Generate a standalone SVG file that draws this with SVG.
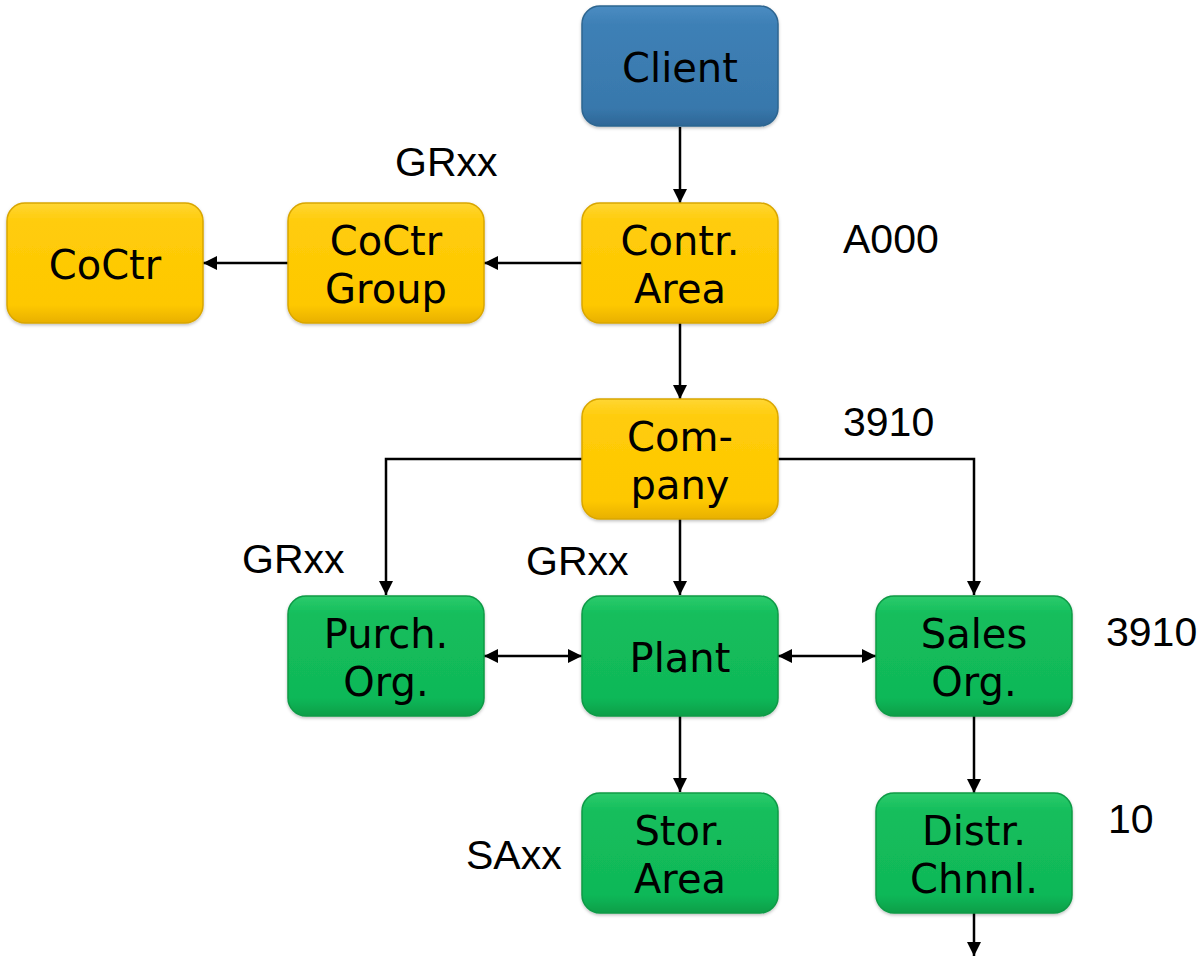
<svg xmlns="http://www.w3.org/2000/svg" width="1201" height="959" viewBox="0 0 1201 959">
  <defs>
    <linearGradient id="gBlue" x1="0" y1="0" x2="0" y2="1">
      <stop offset="0" stop-color="#4A8CC2"/>
      <stop offset="0.15" stop-color="#3E80B6"/>
      <stop offset="0.85" stop-color="#3878AC"/>
      <stop offset="1" stop-color="#2E6696"/>
    </linearGradient>
    <linearGradient id="gYellow" x1="0" y1="0" x2="0" y2="1">
      <stop offset="0" stop-color="#FFD633"/>
      <stop offset="0.15" stop-color="#FFCC0A"/>
      <stop offset="0.85" stop-color="#FEC800"/>
      <stop offset="1" stop-color="#E8B000"/>
    </linearGradient>
    <linearGradient id="gGreen" x1="0" y1="0" x2="0" y2="1">
      <stop offset="0" stop-color="#2CCB6C"/>
      <stop offset="0.15" stop-color="#14BE5C"/>
      <stop offset="0.85" stop-color="#10B858"/>
      <stop offset="1" stop-color="#0C9E48"/>
    </linearGradient>
    <filter id="shadow" x="-10%" y="-10%" width="120%" height="125%">
      <feDropShadow dx="0" dy="1.5" stdDeviation="1.5" flood-color="#000" flood-opacity="0.25"/>
    </filter>
    <marker id="arrow" viewBox="0 0 14 14" markerWidth="14" markerHeight="14" refX="14" refY="7" orient="auto-start-reverse" markerUnits="userSpaceOnUse">
      <path d="M0,0 L14,7 L0,14 z" fill="#000"/>
    </marker>
  </defs>
  <style>
    .box { filter: url(#shadow); stroke-width: 1.5; }
    .blue { fill: url(#gBlue); stroke: #2D6590; }
    .yellow { fill: url(#gYellow); stroke: #D9A600; }
    .green { fill: url(#gGreen); stroke: #0C9A46; }
    .nt { font-family: "DejaVu Sans", Verdana, sans-serif; font-size: 40px; fill: #000; text-anchor: middle; }
    .lbl { font-family: "Liberation Sans", Arial, sans-serif; font-size: 41px; fill: #000; }
    .conn { fill: none; stroke: #000; stroke-width: 2.5; }
  </style>
  <rect width="1201" height="959" fill="#fff"/>

  <g id="connectors">
    <path class="conn" d="M680,127 V203" marker-end="url(#arrow)"/>
    <path class="conn" d="M582,263 H484" marker-end="url(#arrow)"/>
    <path class="conn" d="M288,263 H203" marker-end="url(#arrow)"/>
    <path class="conn" d="M680,323 V399" marker-end="url(#arrow)"/>
    <path class="conn" d="M582,459 H386 V595" marker-end="url(#arrow)"/>
    <path class="conn" d="M680,519 V595" marker-end="url(#arrow)"/>
    <path class="conn" d="M778,459 H974 V595" marker-end="url(#arrow)"/>
    <path class="conn" d="M484,656 H582" marker-start="url(#arrow)" marker-end="url(#arrow)"/>
    <path class="conn" d="M778,656 H876" marker-start="url(#arrow)" marker-end="url(#arrow)"/>
    <path class="conn" d="M680,716 V792" marker-end="url(#arrow)"/>
    <path class="conn" d="M974,716 V793" marker-end="url(#arrow)"/>
    <path class="conn" d="M974,913 V956" marker-end="url(#arrow)"/>
  </g>

  <g id="client">
    <rect class="box blue" x="582" y="6" width="196" height="120" rx="18"/>
    <text class="nt" x="680" y="82">Client</text>
  </g>
  <g id="contr-area">
    <rect class="box yellow" x="582" y="203" width="196" height="120" rx="18"/>
    <text class="nt" x="680" y="255">Contr.</text>
    <text class="nt" x="680" y="303">Area</text>
  </g>
  <g id="coctr-group">
    <rect class="box yellow" x="288" y="203" width="196" height="120" rx="18"/>
    <text class="nt" x="386" y="255">CoCtr</text>
    <text class="nt" x="386" y="303">Group</text>
  </g>
  <g id="coctr">
    <rect class="box yellow" x="7" y="203" width="196" height="120" rx="18"/>
    <text class="nt" x="105" y="279">CoCtr</text>
  </g>
  <g id="company">
    <rect class="box yellow" x="582" y="399" width="196" height="120" rx="18"/>
    <text class="nt" x="680" y="451">Com-</text>
    <text class="nt" x="680" y="499">pany</text>
  </g>
  <g id="purch-org">
    <rect class="box green" x="288" y="596" width="196" height="120" rx="18"/>
    <text class="nt" x="386" y="648">Purch.</text>
    <text class="nt" x="386" y="696">Org.</text>
  </g>
  <g id="plant">
    <rect class="box green" x="582" y="596" width="196" height="120" rx="18"/>
    <text class="nt" x="680" y="672">Plant</text>
  </g>
  <g id="sales-org">
    <rect class="box green" x="876" y="596" width="196" height="120" rx="18"/>
    <text class="nt" x="974" y="648">Sales</text>
    <text class="nt" x="974" y="696">Org.</text>
  </g>
  <g id="stor-area">
    <rect class="box green" x="582" y="793" width="196" height="120" rx="18"/>
    <text class="nt" x="680" y="845">Stor.</text>
    <text class="nt" x="680" y="893">Area</text>
  </g>
  <g id="distr-chnnl">
    <rect class="box green" x="876" y="793" width="196" height="120" rx="18"/>
    <text class="nt" x="974" y="845">Distr.</text>
    <text class="nt" x="974" y="893">Chnnl.</text>
  </g>

  <g id="labels">
    <text class="lbl" x="395" y="176">GRxx</text>
    <text class="lbl" x="843" y="253">A000</text>
    <text class="lbl" x="843" y="436">3910</text>
    <text class="lbl" x="242" y="573">GRxx</text>
    <text class="lbl" x="526" y="575">GRxx</text>
    <text class="lbl" x="1106" y="646">3910</text>
    <text class="lbl" x="1108" y="833">10</text>
    <text class="lbl" x="466" y="869">SAxx</text>
  </g>
</svg>
